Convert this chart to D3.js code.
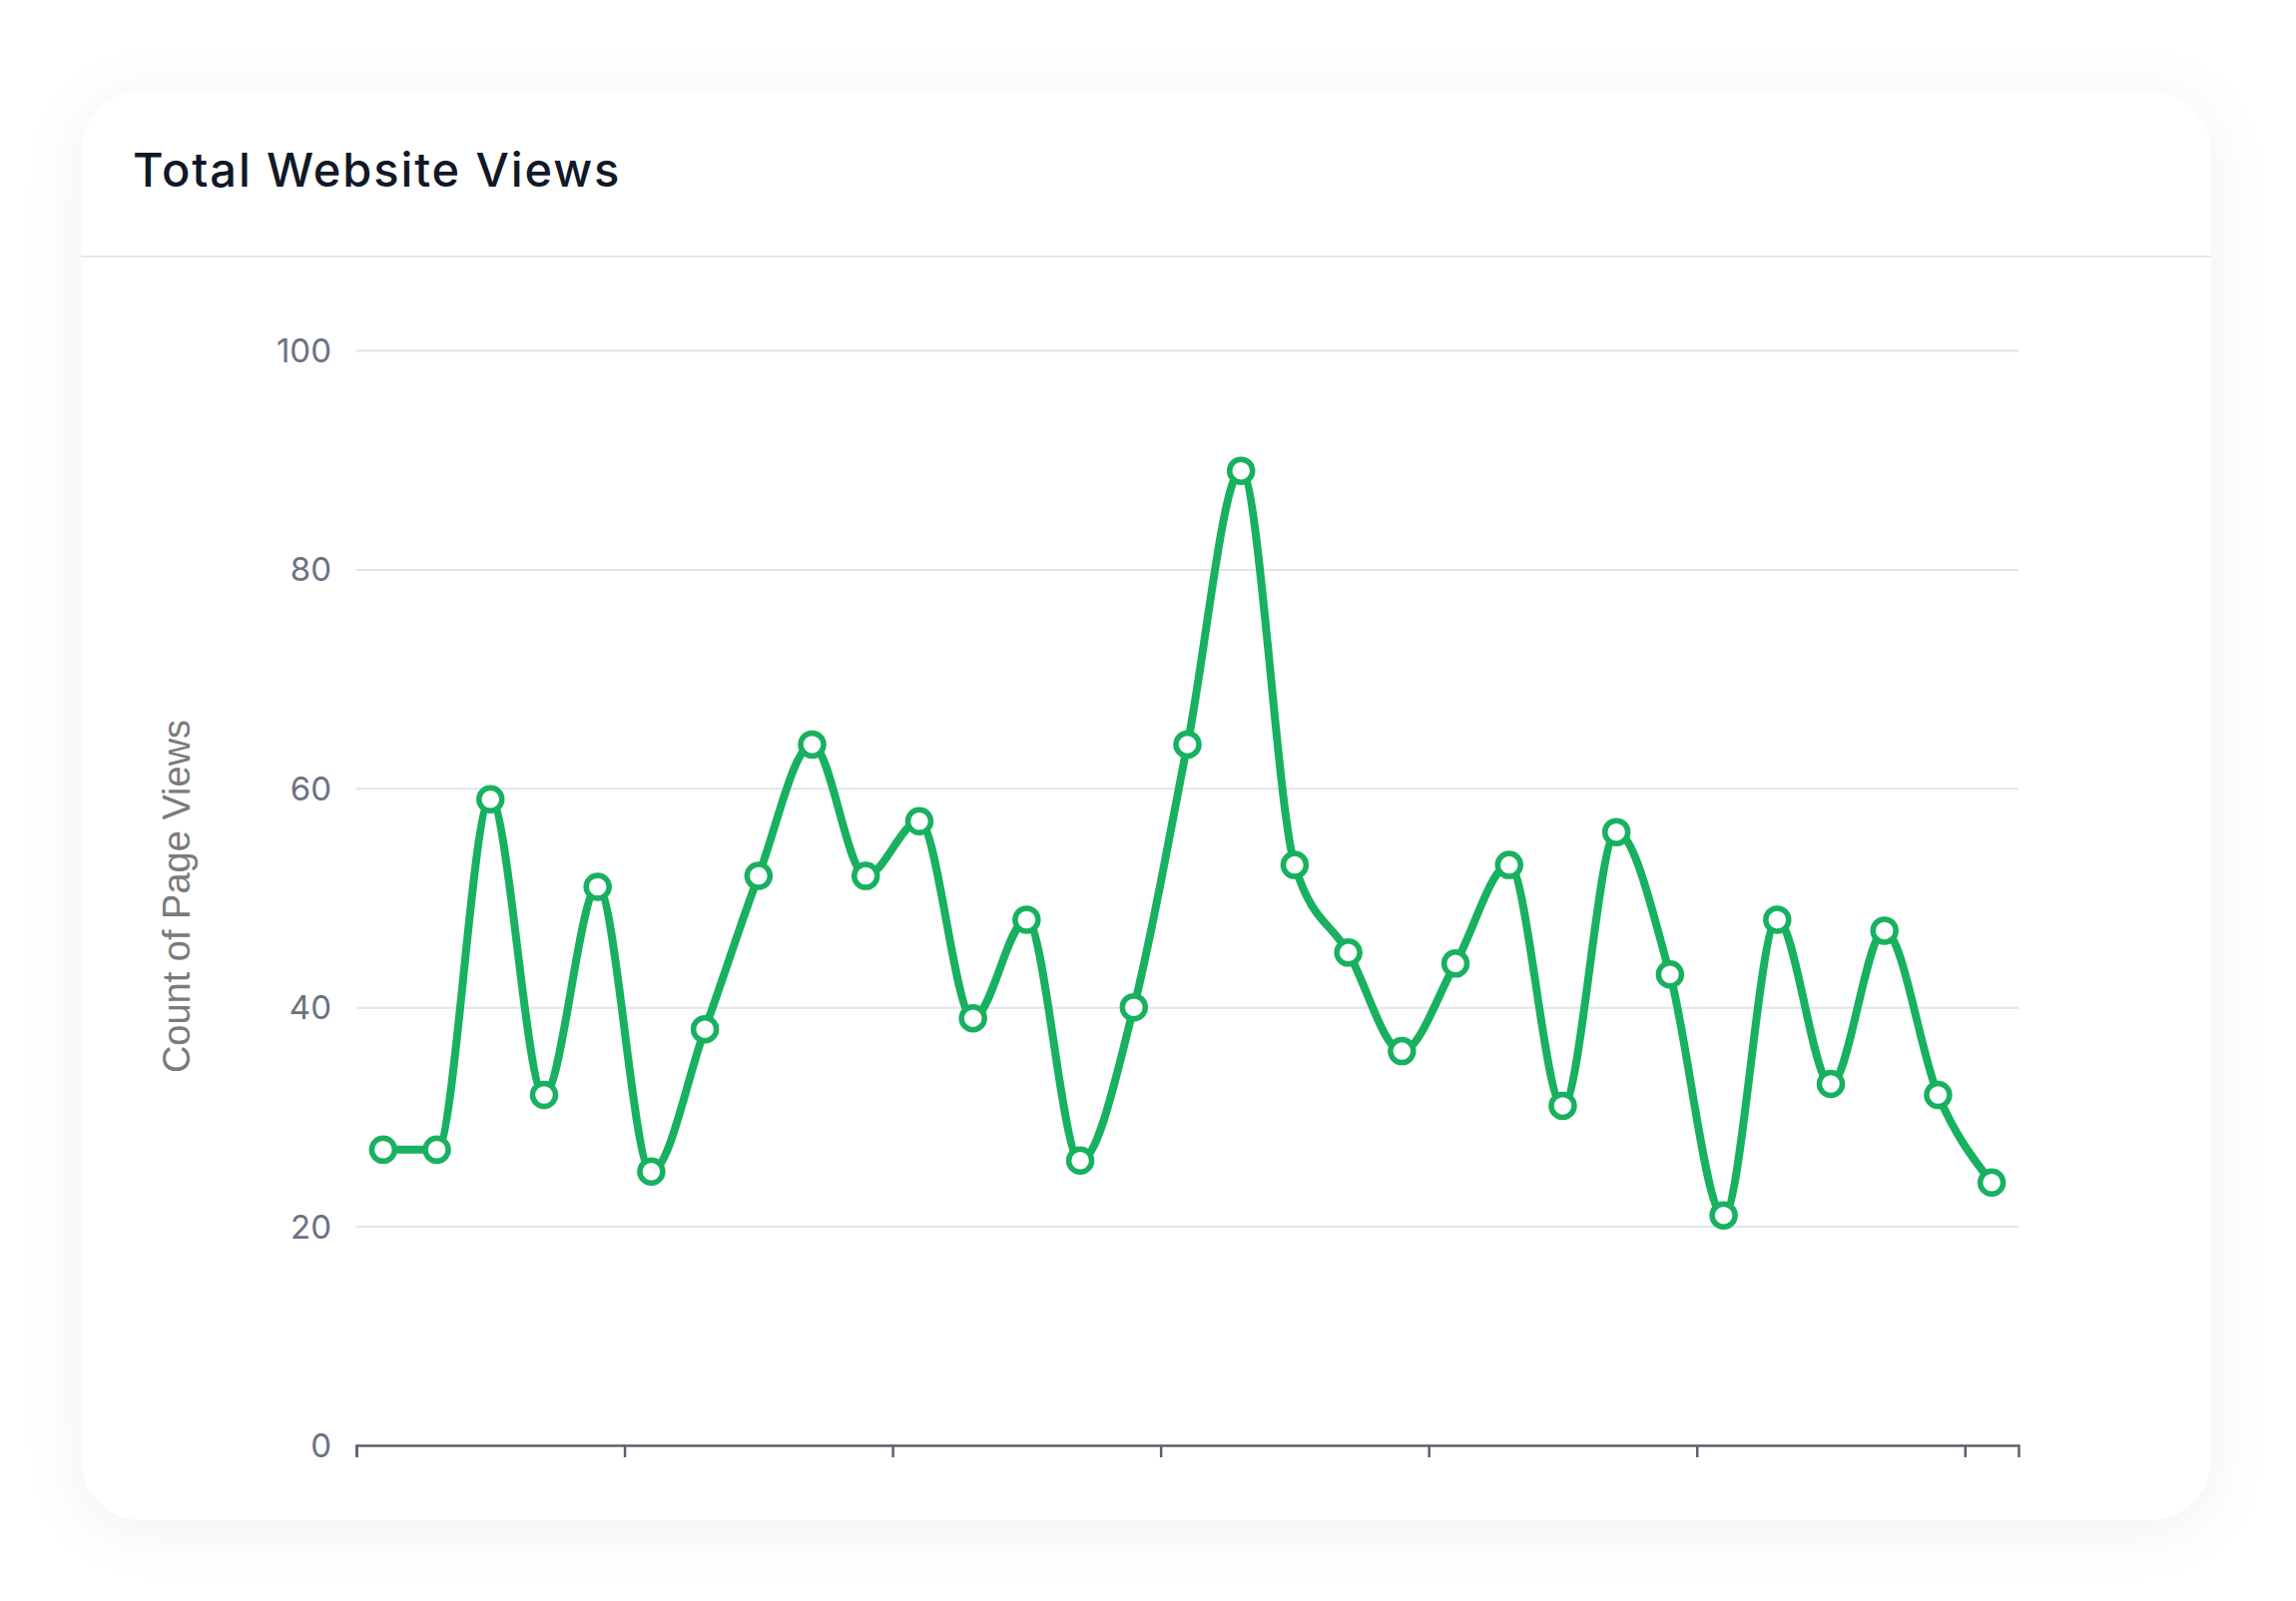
<!DOCTYPE html>
<html>
<head>
<meta charset="utf-8">
<script src="https://cdn.jsdelivr.net/npm/d3@7"></script>
<style>
  html, body { margin: 0; padding: 0; background: #ffffff; }
  svg { display: block; }
</style>
</head>
<body>
<svg id="chart" width="2300" height="1604"></svg>
<script>
// ---- data ----
const title = "Total Website Views";
const yAxisTitle = "Count of Page Views";
const days = d3.range(1, 32); // 31 days
const views = [27, 27, 59, 32, 51, 25, 38, 52, 64, 52, 57, 39, 48, 26, 40, 64, 89,
               53, 45, 36, 44, 53, 31, 56, 43, 21, 48, 33, 47, 32, 24];
const yTicks = [0, 20, 40, 60, 80, 100];
const xTickDays = [0, 5, 10, 15, 20, 25, 30];

// ---- layout ----
const W = 2300, H = 1604;
const card = { x: 81, y: 91, w: 2134, h: 1432, r: 62 };
const plot = { left: 357, right: 2022, top: 351, bottom: 1448 };
const green = "#17b160";

const svg = d3.select("#chart");
const defs = svg.append("defs");
const f = defs.append("filter").attr("id", "shadow")
  .attr("x", "-20%").attr("y", "-20%").attr("width", "140%").attr("height", "140%");
f.append("feDropShadow").attr("dx", 0).attr("dy", 8).attr("stdDeviation", 30)
  .attr("flood-color", "#000").attr("flood-opacity", 0.06);

svg.append("rect")
  .attr("x", card.x).attr("y", card.y).attr("width", card.w).attr("height", card.h)
  .attr("rx", card.r).attr("ry", card.r)
  .attr("fill", "#ffffff").attr("filter", "url(#shadow)");

svg.append("text")
  .attr("x", 133).attr("y", 187)
  .attr("font-family", "Inter, 'Noto Sans', sans-serif")
  .attr("font-weight", 500).attr("font-size", 47)
  .attr("letter-spacing", 1.9)
  .attr("fill", "#111827")
  .text(title);

svg.append("line")
  .attr("x1", card.x).attr("x2", card.x + card.w)
  .attr("y1", 257).attr("y2", 257)
  .attr("stroke", "#e6e8ee").attr("stroke-width", 2);

// ---- scales ----
const x = d3.scaleLinear().domain([0, days.length]).range([plot.left, plot.right]);
const y = d3.scaleLinear().domain([0, 100]).range([plot.bottom, plot.top]);

// y grid + labels
const yAxis = svg.append("g")
  .attr("transform", `translate(${plot.left},0)`)
  .call(d3.axisLeft(y).tickValues(yTicks).tickSize(-(plot.right - plot.left)).tickPadding(25));
yAxis.select(".domain").remove();
yAxis.selectAll(".tick line")
  .attr("stroke", "#e1e4ec").attr("stroke-width", 2)
  .filter(d => d === 0).remove();
yAxis.selectAll(".tick text")
  .attr("font-family", "Inter, 'Noto Sans', sans-serif")
  .attr("font-size", 33).attr("fill", "#6b7283")
  .attr("dy", "0.35em");

// x axis
const xAxis = svg.append("g")
  .attr("transform", `translate(0,${plot.bottom})`)
  .call(d3.axisBottom(x).tickValues(xTickDays).tickFormat("").tickSize(12).tickSizeOuter(12));
xAxis.select(".domain").attr("stroke", "#5d606b").attr("stroke-width", 2.5);
xAxis.selectAll(".tick line").attr("stroke", "#5d606b").attr("stroke-width", 2.5);

// y axis title
svg.append("text")
  .attr("transform", `translate(190,898) rotate(-90)`)
  .attr("text-anchor", "middle")
  .attr("font-family", "'Liberation Sans', Arial, sans-serif")
  .attr("font-size", 38).attr("fill", "#7b7b7b")
  .text(yAxisTitle);

// line
const pts = views.map((v, i) => ({ i, v }));
const line = d3.line()
  .x(d => x(d.i + 0.5))
  .y(d => y(d.v))
  .curve(d3.curveMonotoneX);

svg.append("path")
  .datum(pts)
  .attr("d", line)
  .attr("fill", "none")
  .attr("stroke", green)
  .attr("stroke-width", 8)
  .attr("stroke-linejoin", "round");

svg.append("g").selectAll("circle")
  .data(pts)
  .join("circle")
  .attr("cx", d => x(d.i + 0.5))
  .attr("cy", d => y(d.v))
  .attr("r", 11.5)
  .attr("fill", "#ffffff")
  .attr("stroke", green)
  .attr("stroke-width", 5.5);
</script>
</body>
</html>
